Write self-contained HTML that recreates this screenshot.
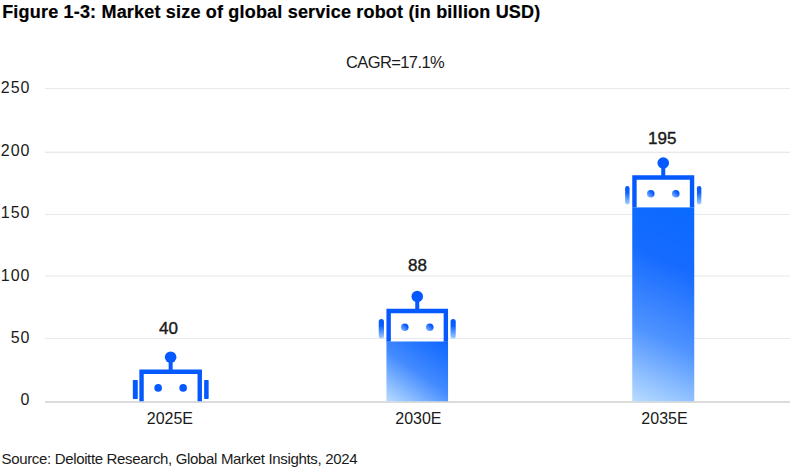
<!DOCTYPE html>
<html><head><meta charset="utf-8"><style>
html,body{margin:0;padding:0;background:#fff;width:799px;height:472px;overflow:hidden;position:relative}
.t{position:absolute;font-family:"Liberation Sans",sans-serif;color:#1a1a1a;white-space:nowrap;line-height:1}
.c{transform:translateX(-50%)}
.r{transform:translateX(-100%)}
svg{position:absolute;left:0;top:0}
</style></head><body>
<svg width="799" height="472" viewBox="0 0 799 472">
<defs>
<linearGradient id="ear" x1="0" y1="0" x2="0" y2="1">
  <stop offset="0" stop-color="#0559ff"/>
  <stop offset="0.35" stop-color="#0a5fff"/>
  <stop offset="1" stop-color="#a8d0ff"/>
</linearGradient>
<linearGradient id="eye" x1="1" y1="0" x2="0" y2="1">
  <stop offset="0.3" stop-color="#0559ff"/>
  <stop offset="1" stop-color="#9cc8ff"/>
</linearGradient>
</defs>
<rect x="45" y="88" width="745" height="1" fill="#e9e9e9"/>
<rect x="45" y="152" width="745" height="1" fill="#e9e9e9"/>
<rect x="45" y="214" width="745" height="1" fill="#e9e9e9"/>
<rect x="45" y="338" width="745" height="1" fill="#e9e9e9"/>
<rect x="45" y="275" width="745" height="2" fill="#f3f3f3"/>
<rect x="45" y="151" width="745" height="1" fill="#f7f7f7"/>
<rect x="45" y="401" width="745" height="2" fill="#dcdcdc"/>
<circle cx="170.65" cy="357.20" r="5.8" fill="#0559ff"/>
<rect x="168.65" y="357.20" width="4.0" height="13.30" fill="#0559ff"/>
<path d="M139.35,401.30 V369.50 H201.95 V401.30 H197.55 V373.90 H143.75 V401.30 Z" fill="#0559ff"/>
<circle cx="158.15" cy="387.90" r="3.8" fill="#0559ff"/>
<circle cx="183.15" cy="387.90" r="3.8" fill="#0559ff"/>
<rect x="132.85" y="380.10" width="4.90" height="18.80" rx="0.60" fill="#0559ff"/>
<rect x="204.15" y="380.10" width="4.50" height="18.80" rx="0.60" fill="#0559ff"/>
<circle cx="417.25" cy="296.50" r="5.8" fill="#0559ff"/>
<rect x="415.25" y="296.50" width="4.0" height="13.30" fill="#0559ff"/>
<path d="M386.45,341.70 V308.80 H448.05 V341.70 H443.65 V313.20 H390.85 V341.70 Z" fill="#0559ff"/>
<linearGradient id="body417" gradientUnits="userSpaceOnUse" x1="441.43" y1="336.87" x2="393.07" y2="405.93"><stop offset="0" stop-color="#0d66ff"/><stop offset="0.5" stop-color="#428aff"/><stop offset="1" stop-color="#b8dcff"/></linearGradient>
<rect x="386.45" y="341.50" width="61.60" height="59.80" fill="url(#body417)"/>
<circle cx="404.75" cy="327.20" r="3.8" fill="url(#eye)"/>
<circle cx="429.75" cy="327.20" r="3.8" fill="url(#eye)"/>
<rect x="378.75" y="319.00" width="5.20" height="19.50" rx="2.60" fill="url(#ear)"/>
<rect x="450.55" y="319.00" width="5.20" height="19.50" rx="2.60" fill="url(#ear)"/>
<circle cx="663.25" cy="163.00" r="5.8" fill="#0559ff"/>
<rect x="661.25" y="163.00" width="4.0" height="13.30" fill="#0559ff"/>
<path d="M632.25,207.60 V175.30 H694.25 V207.60 H689.85 V179.70 H636.65 V207.60 Z" fill="#0559ff"/>
<linearGradient id="body663" gradientUnits="userSpaceOnUse" x1="705.92" y1="212.84" x2="620.58" y2="395.86"><stop offset="0" stop-color="#0a6aff"/><stop offset="0.3" stop-color="#166bff"/><stop offset="0.65" stop-color="#4d92ff"/><stop offset="1" stop-color="#b8dcff"/></linearGradient>
<rect x="632.25" y="207.40" width="62.00" height="193.90" fill="url(#body663)"/>
<circle cx="650.75" cy="193.70" r="3.8" fill="url(#eye)"/>
<circle cx="675.75" cy="193.70" r="3.8" fill="url(#eye)"/>
<rect x="625.15" y="186.00" width="4.40" height="18.40" rx="2.20" fill="url(#ear)"/>
<rect x="696.95" y="186.00" width="4.40" height="18.40" rx="2.20" fill="url(#ear)"/>
</svg>
<div class="t" style="left:2.2px;top:3px;font-size:18px;font-weight:700;letter-spacing:0.19px;color:#000;-webkit-text-stroke:0.2px #000">Figure 1-3: Market size of global service robot (in billion USD)</div>
<div class="t c" style="left:395px;top:53.5px;font-size:16.5px;letter-spacing:-0.6px">CAGR=17.1%</div>
<div class="t r" style="left:30.5px;top:80px;font-size:16px;letter-spacing:1px">250</div>
<div class="t r" style="left:30.5px;top:143px;font-size:16px;letter-spacing:1px">200</div>
<div class="t r" style="left:30.5px;top:205px;font-size:16px;letter-spacing:1px">150</div>
<div class="t r" style="left:30.5px;top:268px;font-size:16px;letter-spacing:1px">100</div>
<div class="t r" style="left:30.5px;top:330px;font-size:16px;letter-spacing:1px">50</div>
<div class="t r" style="left:30.5px;top:392px;font-size:16px;letter-spacing:1px">0</div>
<div class="t c" style="left:168.4px;top:320px;font-size:17px;font-weight:400;-webkit-text-stroke:0.4px #1a1a1a">40</div>
<div class="t c" style="left:417.4px;top:257px;font-size:17px;font-weight:400;-webkit-text-stroke:0.4px #1a1a1a">88</div>
<div class="t c" style="left:662.3px;top:130px;font-size:17px;font-weight:400;-webkit-text-stroke:0.4px #1a1a1a">195</div>
<div class="t c" style="left:169.9px;top:411px;font-size:16px">2025E</div>
<div class="t c" style="left:418.4px;top:411px;font-size:16px">2030E</div>
<div class="t c" style="left:664.5px;top:411px;font-size:16px">2035E</div>
<div class="t" style="left:1.5px;top:451px;font-size:15px;letter-spacing:-0.34px">Source: Deloitte Research, Global Market Insights, 2024</div>
</body></html>
